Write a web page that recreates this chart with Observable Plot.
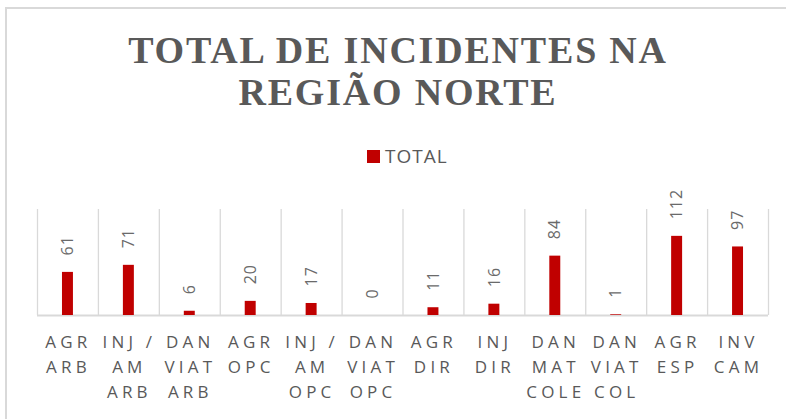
<!DOCTYPE html>
<html>
<head>
<meta charset="utf-8">
<script src="https://cdn.jsdelivr.net/npm/d3@7"></script>
<script src="https://cdn.jsdelivr.net/npm/@observablehq/plot@0.6"></script>
<style>
  html, body { margin: 0; padding: 0; background: #fff; }
  #wrap { position: relative; width: 786px; height: 419px; overflow: hidden; background: #fff; }
  #frame { position: absolute; left: 5px; top: 7px; width: 800px; height: 430px;
           border-top: 2px solid #d9d9d9; border-left: 2px solid #d9d9d9; }
  #title { position: absolute; left: 6px; width: 784px; top: 29px; text-align: center;
           font-family: "Liberation Serif", "Times New Roman", serif; font-weight: bold;
           font-size: 38px; line-height: 42px; letter-spacing: 1.8px; color: #595959; }
  #legend { position: absolute; left: 367px; top: 147px; height: 19px; display: flex; align-items: center;
            font-family: "Open Sans", sans-serif; font-size: 19px; line-height: 19px; color: #595959; letter-spacing: 1px; }
  #legend .sw { width: 13px; height: 13px; background: #c00000; margin-right: 5px; }
  #chart { position: absolute; left: 0; top: 190px; }
</style>
</head>
<body>
<div id="wrap">
  <div id="frame"></div>
  <div id="title">TOTAL DE INCIDENTES NA<br>REGIÃO NORTE</div>
  <div id="legend"><div class="sw"></div><span>TOTAL</span></div>
  <div id="chart"></div>
</div>
<script>
const categories = ["AGR\nARB", "INJ /\nAM\nARB", "DAN\nVIAT\nARB", "AGR\nOPC", "INJ /\nAM\nOPC", "DAN\nVIAT\nOPC",
                    "AGR\nDIR", "INJ\nDIR", "DAN\nMAT\nCOLE", "DAN\nVIAT\nCOL", "AGR\nESP", "INV\nCAM"];
const totals = [61, 71, 6, 20, 17, 0, 11, 16, 84, 1, 112, 97];
const seriesName = "TOTAL";
const yMax = 150;

const data = categories.map((c, i) => ({i, category: c, value: totals[i]}));
const bounds = d3.range(categories.length + 1);

const plot = Plot.plot({
  width: 786,
  height: 229,
  marginLeft: 37,
  marginRight: 18,
  marginTop: 19,
  marginBottom: 104,
  style: {fontFamily: "'Open Sans', sans-serif", color: "#595959", background: "transparent", overflow: "visible"},
  x: {type: "linear", domain: [0, categories.length], axis: null},
  y: {domain: [0, yMax], axis: null},
  marks: [
    Plot.ruleX(bounds, {x: d => d, y1: 0, y2: yMax, stroke: "#d9d9d9", strokeWidth: 1.3}),
    Plot.ruleY([0], {stroke: "#d9d9d9", strokeWidth: 2}),
    Plot.rectY(data, {x1: d => d.i + 0.41, x2: d => d.i + 0.59, y1: 0, y2: "value", fill: "#c00000"}),
    Plot.text(data, {x: d => d.i + 0.5, y: "value", text: d => String(d.value), rotate: -90,
                     textAnchor: "start", lineAnchor: "middle", dy: -17, fontSize: 16, fill: "#6a6a6a"}),
    Plot.text(data, {x: d => d.i + 0.5, y: 0, text: "category", lineAnchor: "top", lineHeight: 25 / 17,
                     dy: 14.5, dx: 0.5, fontSize: 17, fill: "#595959"})
  ]
});
const textGroups = plot.querySelectorAll('g[aria-label="text"]');
if (textGroups[0]) textGroups[0].style.letterSpacing = "1px";
if (textGroups[1]) textGroups[1].style.letterSpacing = "4.2px";
document.getElementById("chart").appendChild(plot);
</script>
</body>
</html>
